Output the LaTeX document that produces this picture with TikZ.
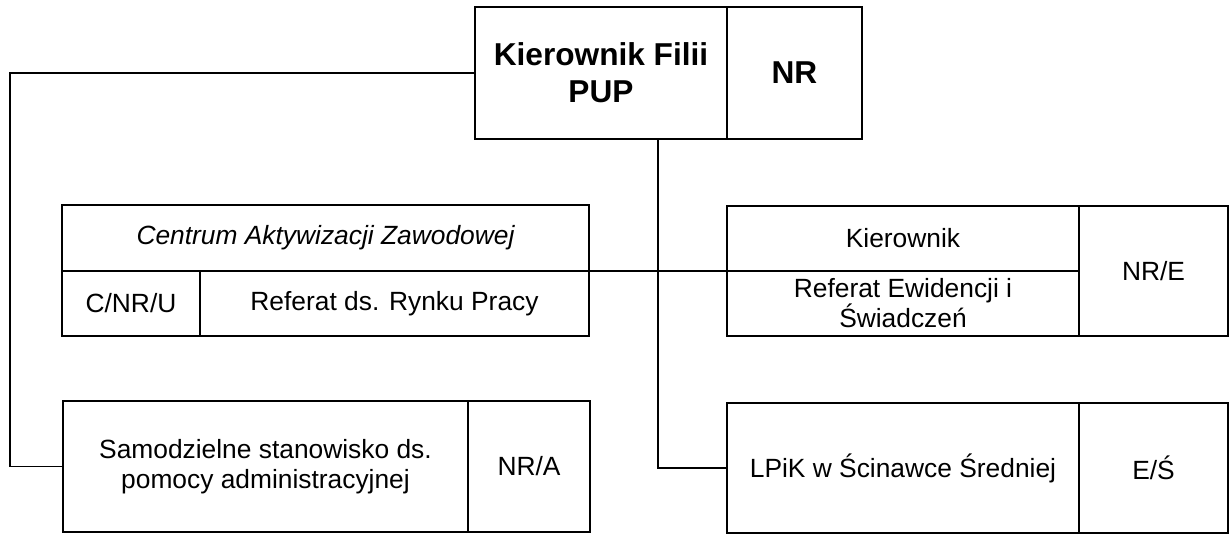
\documentclass[tikz,border=0pt]{standalone}
\usepackage{fontspec}
\setmainfont{Liberation Sans}
\usetikzlibrary{positioning}

\begin{document}
\begin{tikzpicture}
	\tikzstyle{cell} = [draw,line width=1pt,outer sep=0pt,inner sep=2pt,align=center,font=\fontsize{15}{17}\selectfont];
	\tikzstyle{boss} = [cell,font=\fontsize{18}{21}\selectfont\bfseries];
	\tikzstyle{wire} = [line width=1pt];
	\useasboundingbox (0,0) rectangle (24.58,-10.68);
	\node at (12.02,-1.46) (kier) [boss,minimum width=5.04cm,minimum height=2.64cm] {Kierownik Filii\\PUP};
	\node (kier_nr) [right=0pt of kier,boss,minimum width=2.7cm,minimum height=2.64cm] {NR};
	\node at (6.51,-4.76) (caz) [cell,minimum width=10.54cm,minimum height=1.32cm] {\itshape Centrum Aktywizacji Zawodowej};
	\node at (caz.south west) (caz_kod) [anchor=north west,cell,minimum width=2.76cm,minimum height=1.3cm] {C/NR/U};
	\node (caz_ref) [right=0pt of caz_kod,cell,minimum width=7.78cm,minimum height=1.3cm] {Referat ds. Rynku Pracy};
	\node at (18.06,-4.77) (rew) [cell,minimum width=7.04cm,minimum height=1.3cm] {Kierownik};
	\node (rew_ref) [below=0pt of rew,cell,minimum width=7.04cm,minimum height=1.3cm] {Referat Ewidencji i\\Świadczeń};
	\node at (rew.north east) (rew_nr) [anchor=north west,cell,minimum width=2.98cm,minimum height=2.6cm] {NR/E};
	\node at (5.31,-9.33) (sam) [cell,minimum width=8.1cm,minimum height=2.62cm] {Samodzielne stanowisko ds.\\pomocy administracyjnej};
	\node (sam_nr) [right=0pt of sam,cell,minimum width=2.44cm,minimum height=2.62cm] {NR/A};
	\node at (18.06,-9.36) (lpik) [cell,minimum width=7.04cm,minimum height=2.6cm] {LPiK w Ścinawce Średniej};
	\node (lpik_es) [right=0pt of lpik,cell,minimum width=2.98cm,minimum height=2.6cm] {E/Ś};
	\coordinate (lewy) at (0.2,-1.4);
	\coordinate (srodek) at (13.16,-2.78);
	\draw [wire] (kier.west) -- (kier.west -| lewy) |- (sam.west);
	\draw [wire] (srodek |- kier.south) |- (lpik.west);
	\draw [wire] (caz.south east) -- (rew.south west);
\end{tikzpicture}
\end{document}
